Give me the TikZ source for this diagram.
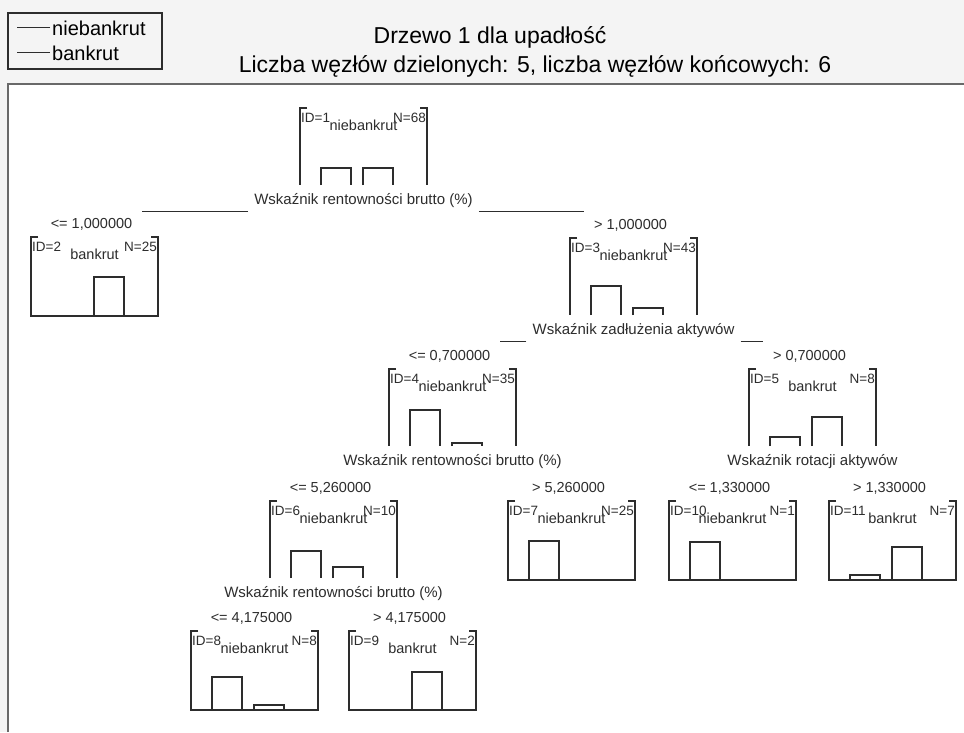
\documentclass[tikz,border=0pt]{standalone}
\usepackage{fontspec}
\setmainfont{Liberation Sans}
\definecolor{inkgray}{RGB}{45,45,45}
\definecolor{framegray}{RGB}{105,105,105}
\definecolor{headbg}{RGB}{244,244,244}

% one tree node: name, left x, top y, ID, class, N, bar 1, bar 2, leaf (1) or split (0)
\newcommand{\treenode}[9]{%
  \coordinate (#1) at (#2,#3);
  \node[idlab, anchor=base west] (#1-id) at ([shift={(1,14)}]#1) {ID=#4};
  \node[idlab, anchor=base east] (#1-n) at ([shift={(126,14)}]#1) {N=#6};
  \node[clslab, anchor=base] (#1-cls) at ([shift={(63.5,22)}]#1) {#5};
  \ifnum#9=1
    \def\barbase{79}
    \draw[boxline] ([shift={(7,0)}]#1) -- (#1) -- ++(0,79) -- ++(127,0) -- ++(0,-79) -- ++(-7,0);
  \else
    \def\barbase{77}
    \draw[boxline] ([shift={(7,0)}]#1) -- (#1) -- ++(0,77);
    \draw[boxline] ([shift={(120,0)}]#1) -- ++(7,0) -- ++(0,77);
  \fi
  \ifdim#7pt>0pt
    \draw[boxline] ([shift={(21,\barbase)}]#1) -- ++(0,-#7) -- ++(30,0) -- ++(0,#7);
  \fi
  \ifdim#8pt>0pt
    \draw[boxline] ([shift={(63,\barbase)}]#1) -- ++(0,-#8) -- ++(30,0) -- ++(0,#8);
  \fi}

\begin{document}
\begin{tikzpicture}[x=1pt, y=-1pt,
    boxline/.style={draw=inkgray, line width=1.1pt},
    idlab/.style={inner sep=0pt, text=inkgray, font=\fontsize{13.5}{15}\selectfont},
    clslab/.style={inner sep=0pt, text=inkgray, font=\fontsize{14.5}{16}\selectfont},
    condlab/.style={inner xsep=10pt, inner ysep=0pt, anchor=base, text=inkgray, font=\fontsize{14.5}{16}\selectfont},
    splitlab/.style={inner xsep=6pt, inner ysep=4pt, anchor=base, text=inkgray, font=\fontsize{15}{17}\selectfont},
    leglab/.style={inner sep=0pt, anchor=base west, text=black, font=\fontsize{20}{22}\selectfont},
    titlelab/.style={inner sep=0pt, text=black, font=\fontsize{23}{26}\selectfont}]
    \useasboundingbox (0,0) rectangle (964,732);

    % Background and frame
    \fill[headbg] (0,0) rectangle (964,732);
    \fill[white] (8,84) rectangle (964,732);
    \draw[framegray, line width=2pt] (8,732) -- (8,84) -- (964,84);

    % Legend
    \node[draw=inkgray, line width=1.2pt, minimum width=154pt, minimum height=56pt, inner sep=0pt] (legend) at (85,41) {};
    \node[leglab] (leg1) at (52,35) {niebankrut};
    \node[leglab] (leg2) at (52,60) {bankrut};
    \draw[boxline] ([xshift=-2pt]leg1.west) -- ++(-33,0);
    \draw[boxline] ([xshift=-2pt]leg2.west) -- ++(-33,0);

    % Title
    \node[titlelab] (title1) at (490,37) {Drzewo 1 dla upadłość};
    \node[titlelab] (title2) at (535,66) {Liczba węzłów dzielonych: 5, liczba węzłów końcowych: 6};

    % Root
    \treenode{n1}{300}{108}{1}{niebankrut}{68}{17}{17}{0}
    \node[splitlab] (s1) at ([shift={(63.5,96)}]n1) {Wskaźnik rentowności brutto (\%)};

    % Level 1
    \treenode{n2}{31}{237}{2}{bankrut}{25}{0}{39}{1}
    \node[condlab] (c2) at ([shift={(60.5,-9)}]n2) {<= 1,000000};
    \treenode{n3}{570}{238}{3}{niebankrut}{43}{29}{7}{0}
    \node[condlab] (c3) at ([shift={(60.5,-9)}]n3) {> 1,000000};
    \node[splitlab] (s3) at ([shift={(63.5,96)}]n3) {Wskaźnik zadłużenia aktywów};
    \draw[boxline] (s1.south west) -- (s1.south west -| c2.east);
    \draw[boxline] (s1.south east) -- (s1.south east -| c3.west);

    % Level 2
    \treenode{n4}{389}{369}{4}{niebankrut}{35}{36}{3}{0}
    \node[condlab] (c4) at ([shift={(60.5,-9)}]n4) {<= 0,700000};
    \node[splitlab] (s4) at ([shift={(63.5,96)}]n4) {Wskaźnik rentowności brutto (\%)};
    \treenode{n5}{749}{369}{5}{bankrut}{8}{9}{29}{0}
    \node[condlab] (c5) at ([shift={(60.5,-9)}]n5) {> 0,700000};
    \node[splitlab] (s5) at ([shift={(63.5,96)}]n5) {Wskaźnik rotacji aktywów};
    \draw[boxline] (s3.south west) -- (s3.south west -| c4.east);
    \draw[boxline] (s3.south east) -- (s3.south east -| c5.west);

    % Level 3
    \treenode{n6}{270}{501}{6}{niebankrut}{10}{27}{11}{0}
    \node[condlab] (c6) at ([shift={(60.5,-9)}]n6) {<= 5,260000};
    \node[splitlab] (s6) at ([shift={(63.5,96)}]n6) {Wskaźnik rentowności brutto (\%)};
    \treenode{n7}{508}{501}{7}{niebankrut}{25}{39}{0}{1}
    \node[condlab] (c7) at ([shift={(60.5,-9)}]n7) {> 5,260000};
    \treenode{n10}{669}{501}{10}{niebankrut}{1}{38}{0}{1}
    \node[condlab] (c10) at ([shift={(60.5,-9)}]n10) {<= 1,330000};
    \treenode{n11}{829}{501}{11}{bankrut}{7}{5}{33}{1}
    \node[condlab] (c11) at ([shift={(60.5,-9)}]n11) {> 1,330000};

    % Level 4
    \treenode{n8}{191}{631}{8}{niebankrut}{8}{33}{5}{1}
    \node[condlab] (c8) at ([shift={(60.5,-9)}]n8) {<= 4,175000};
    \treenode{n9}{349}{631}{9}{bankrut}{2}{0}{38}{1}
    \node[condlab] (c9) at ([shift={(60.5,-9)}]n9) {> 4,175000};
\end{tikzpicture}
\end{document}
